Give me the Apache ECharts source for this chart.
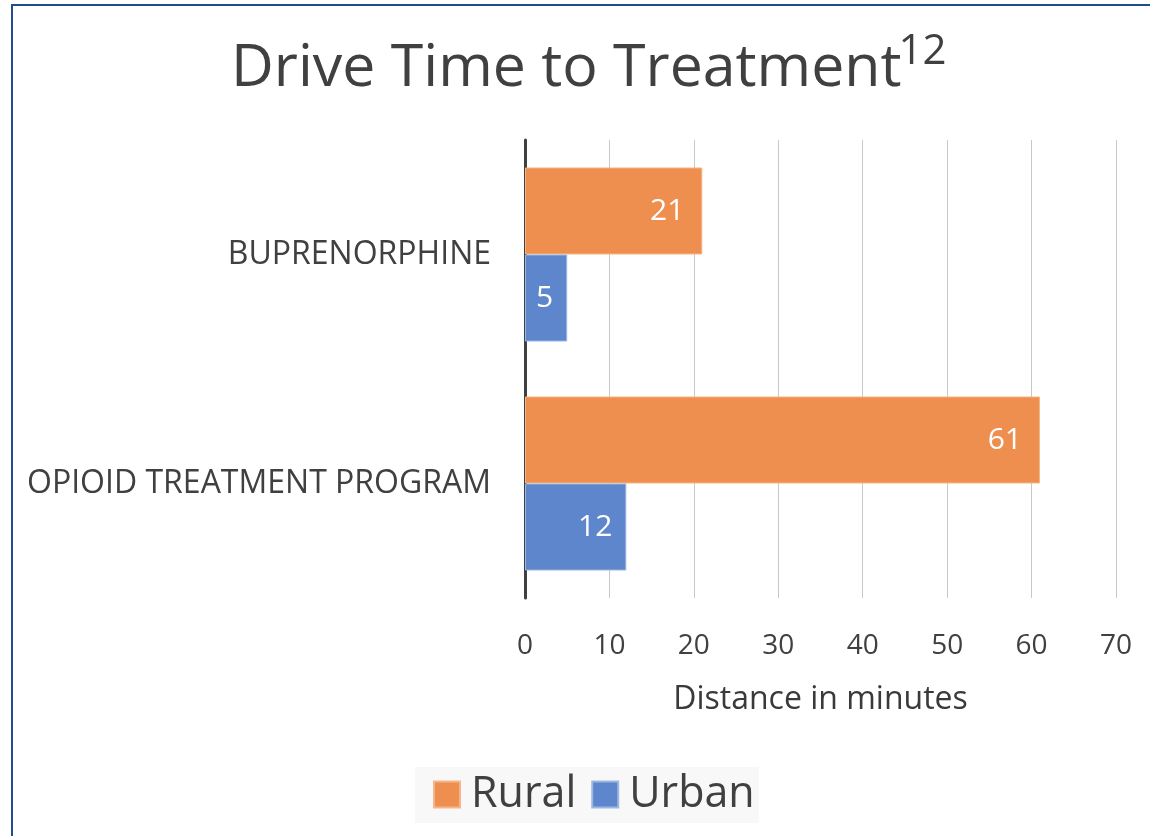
<!DOCTYPE html>
<html>
<head>
<meta charset="utf-8">
<script src="https://cdn.jsdelivr.net/npm/echarts@6/dist/echarts.min.js"></script>
<style>
    html, body {
        margin: 0;
        padding: 0;
        background: #ffffff;
    }
    .frame {
        position: absolute;
        left: 11px;
        top: 4px;
        width: 1139px;
        height: 832px;
        border-left: 2px solid #1f4e8a;
        border-top: 2px solid #1f4e8a;
    }
    .charts {
        position: absolute;
        left: 0;
        top: 0;
        width: 1150px;
        height: 836px;
    }
</style>
</head>
<body>
<div class="frame"></div>
<div class="charts" id="myEchart"></div>
<script>
    // data
    var categories = ['OPIOID TREATMENT PROGRAM', 'BUPRENORPHINE'];
    var rural = [61, 21];
    var urban = [12, 5];
    var seriesNames = ['Rural', 'Urban'];

    var myChart = echarts.init(document.getElementById('myEchart'));
    var font = '"Open Sans", "Noto Sans", sans-serif';

    myChart.setOption({
        backgroundColor: 'transparent',
        textStyle: {
            fontFamily: font
        },
        title: {
            text: '{a|Drive Time to Treatment}{b|12}',
            left: 226,
            top: 26,
            textStyle: {
                rich: {
                    a: {
                        fontFamily: font,
                        fontSize: 59,
                        fontWeight: 'normal',
                        color: '#404040',
                        lineHeight: 76
                    },
                    b: {
                        fontFamily: font,
                        fontSize: 42,
                        fontWeight: 'normal',
                        color: '#404040',
                        verticalAlign: 'top',
                        lineHeight: 76,
                        padding: [0, 0, 0, -3]
                    }
                }
            }
        },
        legend: {
            left: 415,
            top: 767,
            padding: [6, 4, 7, 18],
            backgroundColor: '#f8f8f8',
            icon: 'rect',
            itemWidth: 26,
            itemHeight: 26,
            itemGap: 15,
            selectedMode: false,
            data: seriesNames,
            textStyle: {
                fontSize: 43,
                color: '#404040',
                fontFamily: font,
                padding: [0, 0, 0, 6]
            }
        },
        grid: {
            left: 525,
            right: 34,
            top: 140,
            bottom: 238,
            containLabel: false
        },
        xAxis: {
            type: 'value',
            min: 0,
            max: 70,
            interval: 10,
            name: 'Distance in minutes',
            nameLocation: 'middle',
            nameGap: 86,
            nameTextStyle: {
                fontSize: 32,
                color: '#3a3a3a',
                fontFamily: font
            },
            axisLine: { show: false },
            axisTick: { show: false },
            axisLabel: {
                fontSize: 28,
                color: '#404040',
                margin: 34,
                fontFamily: font
            },
            splitLine: {
                lineStyle: {
                    color: '#c8c8c8',
                    width: 1
                }
            }
        },
        yAxis: {
            type: 'category',
            data: categories,
            axisLine: {
                lineStyle: {
                    color: '#404040',
                    width: 3
                }
            },
            axisTick: { show: false },
            axisLabel: {
                fontSize: 32,
                color: '#404040',
                margin: 34,
                fontFamily: font
            }
        },
        series: [{
            name: seriesNames[0],
            type: 'bar',
            data: rural,
            barGap: '0%',
            barCategoryGap: '24%',
            itemStyle: {
                color: '#ee8f4f',
                borderColor: '#f5b68a',
                borderWidth: 1
            },
            label: {
                show: true,
                position: 'insideRight',
                distance: 18,
                color: '#ffffff',
                fontSize: 30,
                fontFamily: font
            }
        }, {
            name: seriesNames[1],
            type: 'bar',
            data: urban,
            barGap: '0%',
            barCategoryGap: '24%',
            itemStyle: {
                color: '#5e86cc',
                borderColor: '#9db6e2',
                borderWidth: 1
            },
            label: {
                show: true,
                position: 'insideRight',
                distance: 14,
                color: '#ffffff',
                fontSize: 30,
                fontFamily: font
            }
        }]
    });
</script>
</body>
</html>
